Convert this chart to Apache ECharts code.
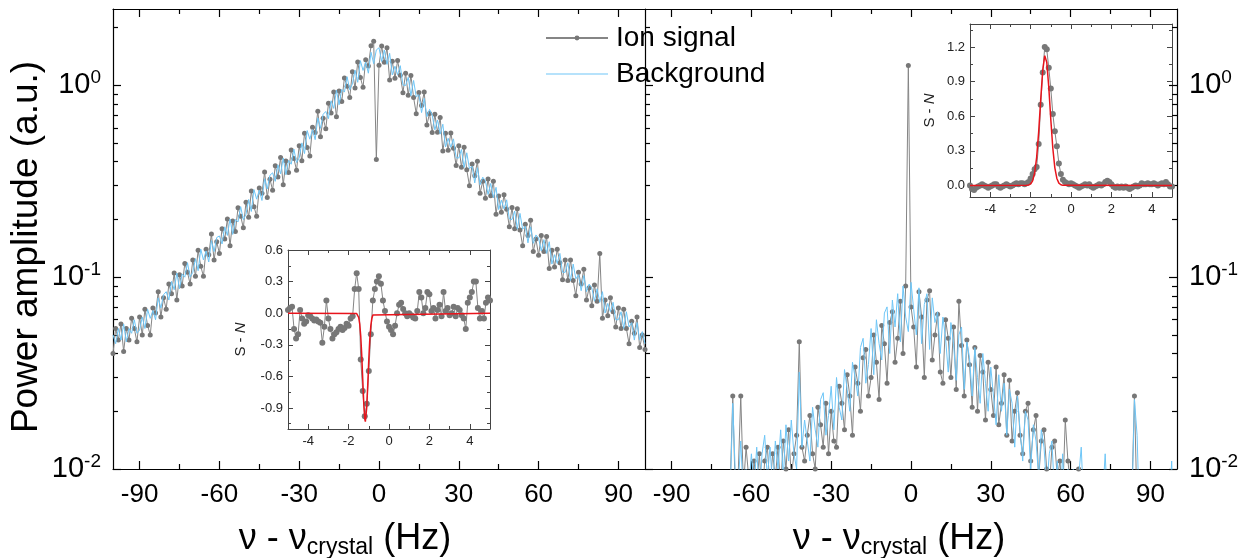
<!DOCTYPE html>
<html>
<head>
<meta charset="utf-8">
<script src="https://cdn.jsdelivr.net/npm/echarts@6/dist/echarts.min.js"></script>
<style>
    html, body { margin: 0; padding: 0; background: #fff; }
    #chart { width: 1243px; height: 558px; }
</style>
</head>
<body>
<div id="chart"></div>
<script>
// 频率网格 (Hz), 主图每 1 Hz 一个点, 插图每 0.1 Hz 一个点
var freqMain = Array.from({ length: 201 }, function (_, i) { return i - 100; });
var freqInset = Array.from({ length: 101 }, function (_, i) { return (i - 50) / 10; });

// 左图: 离子信号 / 背景
var ionLeft = [
    0.040, 0.054, 0.047, 0.057, 0.041, 0.054, 0.047, 0.061, 0.054, 0.046,
    0.062, 0.050, 0.068, 0.056, 0.050, 0.069, 0.065, 0.084, 0.062, 0.078,
    0.068, 0.092, 0.082, 0.105, 0.076, 0.103, 0.090, 0.118, 0.106, 0.092,
    0.123, 0.101, 0.138, 0.114, 0.101, 0.140, 0.131, 0.168, 0.123, 0.153,
    0.133, 0.179, 0.158, 0.201, 0.146, 0.196, 0.173, 0.230, 0.208, 0.181,
    0.246, 0.205, 0.281, 0.233, 0.208, 0.292, 0.274, 0.353, 0.260, 0.324,
    0.284, 0.381, 0.333, 0.421, 0.303, 0.403, 0.351, 0.460, 0.415, 0.361,
    0.484, 0.405, 0.563, 0.474, 0.428, 0.605, 0.567, 0.732, 0.540, 0.673,
    0.593, 0.806, 0.717, 0.924, 0.685, 0.933, 0.824, 1.093, 0.990, 0.865,
    1.177, 0.968, 1.322, 1.097, 0.976, 1.361, 1.261, 1.608, 1.700, 0.410,
    1.273, 1.602, 1.321, 1.568, 1.066, 1.336, 1.089, 1.346, 1.130, 0.916,
    1.155, 0.889, 1.125, 0.865, 0.712, 0.918, 0.786, 0.924, 0.621, 0.714,
    0.568, 0.706, 0.570, 0.679, 0.455, 0.562, 0.459, 0.564, 0.470, 0.382,
    0.484, 0.374, 0.476, 0.363, 0.300, 0.389, 0.338, 0.402, 0.274, 0.316,
    0.258, 0.325, 0.266, 0.316, 0.213, 0.265, 0.218, 0.269, 0.226, 0.183,
    0.231, 0.179, 0.227, 0.176, 0.146, 0.189, 0.165, 0.198, 0.136, 0.158,
    0.130, 0.165, 0.136, 0.163, 0.111, 0.138, 0.113, 0.140, 0.119, 0.097,
    0.123, 0.096, 0.123, 0.096, 0.080, 0.106, 0.092, 0.110, 0.076, 0.088,
    0.071, 0.091, 0.075, 0.133, 0.061, 0.076, 0.063, 0.078, 0.066, 0.055,
    0.069, 0.054, 0.068, 0.054, 0.045, 0.059, 0.051, 0.062, 0.043, 0.050, 0.042
];
var bgLeft = [
    0.050, 0.045, 0.054, 0.047, 0.057, 0.046, 0.054, 0.051, 0.060, 0.051,
    0.053, 0.062, 0.054, 0.068, 0.061, 0.067, 0.060, 0.078, 0.069, 0.081,
    0.084, 0.076, 0.095, 0.086, 0.105, 0.087, 0.104, 0.100, 0.119, 0.100,
    0.106, 0.125, 0.108, 0.140, 0.123, 0.137, 0.120, 0.155, 0.136, 0.161,
    0.164, 0.149, 0.183, 0.165, 0.201, 0.167, 0.200, 0.194, 0.233, 0.199,
    0.213, 0.254, 0.220, 0.286, 0.255, 0.284, 0.251, 0.326, 0.288, 0.340,
    0.350, 0.316, 0.385, 0.346, 0.418, 0.342, 0.406, 0.388, 0.465, 0.396,
    0.418, 0.501, 0.441, 0.581, 0.524, 0.588, 0.521, 0.677, 0.597, 0.706,
    0.731, 0.670, 0.831, 0.758, 0.944, 0.792, 0.952, 0.922, 1.109, 0.948,
    1.017, 1.199, 1.037, 1.345, 1.196, 1.323, 1.157, 1.487, 1.297, 1.530,
    1.569, 1.330, 1.529, 1.286, 1.469, 1.134, 1.258, 1.135, 1.266, 1.003,
    0.998, 1.101, 0.883, 1.060, 0.872, 0.893, 0.721, 0.855, 0.686, 0.749,
    0.700, 0.586, 0.660, 0.557, 0.627, 0.477, 0.530, 0.475, 0.526, 0.419,
    0.418, 0.463, 0.373, 0.445, 0.368, 0.378, 0.310, 0.372, 0.303, 0.332,
    0.318, 0.270, 0.308, 0.259, 0.294, 0.225, 0.252, 0.227, 0.253, 0.201,
    0.200, 0.221, 0.178, 0.215, 0.178, 0.184, 0.151, 0.183, 0.150, 0.166,
    0.160, 0.137, 0.157, 0.133, 0.153, 0.117, 0.131, 0.118, 0.133, 0.106,
    0.106, 0.119, 0.096, 0.117, 0.098, 0.103, 0.085, 0.102, 0.084, 0.092,
    0.088, 0.075, 0.087, 0.074, 0.084, 0.065, 0.073, 0.066, 0.074, 0.060,
    0.060, 0.066, 0.054, 0.066, 0.055, 0.058, 0.047, 0.058, 0.047, 0.052, 0.045
];

// 右图: 离子信号 / 背景
var ionRight = [
    0.004, 0.005, 0.003, 0.006, 0.004, 0.005, 0.003, 0.004, 0.006, 0.005,
    0.004, 0.006, 0.005, 0.003, 0.005, 0.004, 0.006, 0.005, 0.004, 0.006,
    0.005, 0.007, 0.004, 0.006, 0.005, 0.007, 0.006, 0.004, 0.007, 0.006,
    0.007, 0.006, 0.008, 0.024, 0.007, 0.009, 0.024, 0.008, 0.013, 0.009,
    0.007, 0.011, 0.008, 0.012, 0.007, 0.011, 0.013, 0.008, 0.012, 0.009,
    0.013, 0.008, 0.014, 0.010, 0.016, 0.009, 0.012, 0.015, 0.046, 0.013,
    0.011, 0.015, 0.019, 0.012, 0.010, 0.021, 0.017, 0.013, 0.022, 0.012,
    0.020, 0.014, 0.013, 0.027, 0.022, 0.016, 0.031, 0.024, 0.015, 0.034,
    0.028, 0.020, 0.038, 0.042, 0.024, 0.030, 0.050, 0.036, 0.023, 0.056,
    0.045, 0.028, 0.058, 0.066, 0.036, 0.048, 0.075, 0.040, 0.090, 1.270,
    0.070, 0.055, 0.034, 0.084, 0.062, 0.030, 0.076, 0.085, 0.037, 0.050,
    0.064, 0.032, 0.028, 0.060, 0.048, 0.030, 0.055, 0.026, 0.075, 0.044,
    0.024, 0.047, 0.035, 0.021, 0.043, 0.020, 0.039, 0.032, 0.018, 0.036,
    0.026, 0.019, 0.034, 0.017, 0.022, 0.031, 0.015, 0.029, 0.014, 0.020,
    0.025, 0.015, 0.012, 0.020, 0.022, 0.011, 0.016, 0.019, 0.009, 0.014,
    0.016, 0.010, 0.008, 0.013, 0.014, 0.009, 0.011, 0.007, 0.018, 0.011,
    0.008, 0.009, 0.007, 0.010, 0.006, 0.008, 0.007, 0.005, 0.006, 0.007,
    0.005, 0.006, 0.004, 0.007, 0.005, 0.006, 0.004, 0.005, 0.006, 0.005,
    0.004, 0.006, 0.005, 0.007, 0.024, 0.006, 0.005, 0.004, 0.006, 0.005,
    0.004, 0.006, 0.005, 0.004, 0.005, 0.006, 0.004, 0.005, 0.003, 0.004, 0.005
];
var bgRight = [
    0.003, 0.005, 0.004, 0.006, 0.003, 0.005, 0.004, 0.006, 0.005, 0.004,
    0.006, 0.004, 0.005, 0.007, 0.004, 0.006, 0.005, 0.004, 0.007, 0.005,
    0.006, 0.005, 0.007, 0.004, 0.008, 0.006, 0.005, 0.007, 0.006, 0.008,
    0.006, 0.008, 0.007, 0.022, 0.009, 0.008, 0.014, 0.007, 0.010, 0.008,
    0.012, 0.008, 0.013, 0.007, 0.012, 0.015, 0.009, 0.013, 0.008, 0.014,
    0.010, 0.016, 0.009, 0.017, 0.011, 0.018, 0.012, 0.010, 0.032, 0.013,
    0.018, 0.014, 0.011, 0.021, 0.016, 0.013, 0.023, 0.025, 0.015, 0.019,
    0.027, 0.016, 0.030, 0.021, 0.018, 0.033, 0.026, 0.020, 0.036, 0.030,
    0.024, 0.043, 0.048, 0.028, 0.035, 0.054, 0.031, 0.060, 0.045, 0.037,
    0.065, 0.070, 0.040, 0.076, 0.055, 0.082, 0.046, 0.090, 0.062, 0.052,
    0.094, 0.068, 0.050, 0.088, 0.045, 0.072, 0.082, 0.042, 0.078, 0.058,
    0.066, 0.040, 0.062, 0.048, 0.032, 0.058, 0.045, 0.029, 0.050, 0.055,
    0.026, 0.046, 0.038, 0.024, 0.043, 0.030, 0.022, 0.040, 0.028, 0.020,
    0.034, 0.024, 0.017, 0.031, 0.020, 0.028, 0.015, 0.026, 0.022, 0.013,
    0.024, 0.016, 0.011, 0.020, 0.018, 0.010, 0.017, 0.014, 0.009, 0.016,
    0.013, 0.008, 0.012, 0.014, 0.007, 0.011, 0.006, 0.012, 0.006, 0.010,
    0.007, 0.010, 0.006, 0.009, 0.013, 0.006, 0.008, 0.005, 0.007, 0.006,
    0.008, 0.005, 0.007, 0.012, 0.006, 0.005, 0.007, 0.004, 0.006, 0.005,
    0.005, 0.007, 0.004, 0.006, 0.023, 0.015, 0.005, 0.006, 0.004, 0.005,
    0.006, 0.004, 0.005, 0.003, 0.006, 0.005, 0.004, 0.006, 0.011, 0.004, 0.005
];

// 插图: S - N
var snLeft = [
    0.03, 0.05, 0.06, -0.15, -0.24, -0.20, 0.03, -0.05, -0.10, -0.08,
    -0.02, -0.03, -0.05, -0.07, -0.06, -0.08, -0.09, -0.28, -0.13, 0.12,
    -0.05, -0.15, -0.24, -0.20, -0.18, -0.15, -0.13, -0.16, -0.14, -0.10,
    -0.12, -0.05, -0.03, 0.23, 0.38, 0.23, -0.44, -0.74, -0.98, -0.86,
    -0.55, -0.20, 0.12, 0.23, 0.30, 0.35, 0.28, 0.12, 0.02, -0.08,
    -0.13, -0.16, -0.20, -0.12, 0.00, 0.08, 0.10, 0.04, 0.00, -0.03,
    0.00, -0.02, -0.04, -0.05, 0.02, 0.20, 0.15, 0.00, 0.05, 0.20,
    0.18, 0.02, 0.05, -0.05, 0.03, 0.08, -0.03, 0.20, 0.02, 0.05,
    -0.02, 0.00, 0.06, -0.03, 0.05, 0.03, -0.02, -0.05, -0.15, 0.10,
    0.15, 0.20, 0.30, 0.30, 0.05, -0.05, 0.02, -0.05, 0.10, 0.15,
    0.12
];
var snRight = [
    0.00, -0.03, -0.04, -0.02, -0.01, 0.00, 0.01, 0.00, -0.01, -0.02,
    -0.01, 0.00, 0.01, 0.01, -0.01, -0.02, -0.01, 0.00, 0.01, 0.00,
    -0.01, 0.00, 0.01, 0.02, 0.01, 0.02, 0.02, 0.01, 0.02, 0.03,
    0.06, 0.10, 0.14, 0.16, 0.36, 0.70, 0.98, 1.20, 1.18, 1.02,
    0.84, 0.62, 0.47, 0.34, 0.19, 0.10, 0.05, 0.03, 0.02, 0.01,
    0.02, 0.01, 0.00, -0.01, -0.02, -0.01, 0.00, 0.01, 0.00, 0.01,
    -0.01, -0.02, -0.01, 0.00, 0.01, 0.00, 0.01, 0.03, 0.04, 0.03,
    0.01, -0.01, -0.02, -0.01, -0.02, -0.01, -0.02, -0.01, -0.02, -0.03,
    -0.02, -0.01, 0.00, -0.01, 0.00, 0.02, 0.01, 0.01, 0.02, 0.01,
    0.01, 0.02, 0.01, 0.00, 0.01, 0.02, 0.01, 0.03, 0.01, -0.01,
    -0.01
];

// 高斯拟合
var fitLeftX = [-5, -1.6, -1.55, -1.5, -1.45, -1.4, -1.35, -1.3, -1.25, -1.2, -1.17, -1.15, -1.1, -1.05, -1.0, -0.95, -0.9, -0.85, -0.8, -0.75, 5];
var fitLeftY = [0, -0.004, -0.014, -0.041, -0.101, -0.215, -0.395, -0.625, -0.853, -1.003, -1.03, -1.018, -0.891, -0.673, -0.438, -0.246, -0.119, -0.05, -0.018, -0.005, 0];
var fitRightX = [-5, -2.2, -2.1, -2.0, -1.9, -1.8, -1.7, -1.6, -1.5, -1.4, -1.3, -1.28, -1.2, -1.1, -1.0, -0.9, -0.8, -0.7, -0.6, -0.5, -0.4, 5];
var fitRightY = [0, 0.001, 0.003, 0.013, 0.04, 0.108, 0.244, 0.465, 0.742, 0.997, 1.126, 1.13, 1.069, 0.853, 0.572, 0.323, 0.153, 0.061, 0.02, 0.006, 0.001, 0];

// 刻度
var mainXMajor = [-90, -60, -30, 0, 30, 60, 90];
var mainXMinor = [-75, -45, -15, 15, 45, 75];
var logMajor = [0.01, 0.1, 1];
var logMinor = [0.02, 0.03, 0.04, 0.05, 0.06, 0.07, 0.08, 0.09, 0.2, 0.3, 0.4, 0.5, 0.6, 0.7, 0.8, 0.9, 2];
var insetXMajor = [-4, -2, 0, 2, 4];
var insetXMinor = [-5, -3, -1, 1, 3, 5];
var leftInsetYMajor = [-0.9, -0.6, -0.3, 0, 0.3, 0.6];
var leftInsetYMinor = [-1.05, -0.75, -0.45, -0.15, 0.15, 0.45];
var rightInsetYMajor = [0, 0.3, 0.6, 0.9, 1.2];
var rightInsetYMinor = [0.15, 0.45, 0.75, 1.05, 1.35];

var FONT = "'Liberation Sans', Arial, Helvetica, sans-serif";
var GRAY = "#777777";
var BLUE = "#6ec6f7";
var RED = "#e8141c";

function zip(xs, ys) {
    return ys.map(function (y, i) { return [xs[i], y]; });
}

var xAxes = [];
var yAxes = [];

// 一个主刻度轴 (轴线+长刻度+标签) 加一个次刻度轴 (短刻度)
function addAxis(list, cfg) {
    var common = {
        gridIndex: cfg.grid,
        position: cfg.pos,
        type: cfg.type || "value",
        min: cfg.min,
        max: cfg.max,
        splitLine: { show: false },
        axisPointer: { show: false },
    };
    var major = Object.assign({}, common, {
        axisLine: { show: true, onZero: false, lineStyle: { color: cfg.color, width: cfg.width } },
        axisTick: {
            show: true, inside: true, length: cfg.len, customValues: cfg.major,
            lineStyle: { color: cfg.color, width: cfg.width },
        },
        axisLabel: cfg.label ? Object.assign({ customValues: cfg.major }, cfg.label) : { show: false },
    });
    if (cfg.name) {
        major.name = cfg.name;
        major.nameLocation = "middle";
        major.nameGap = cfg.nameGap;
        major.nameTextStyle = cfg.nameTextStyle;
    }
    list.push(major);
    var idx = list.length - 1;
    if (cfg.minor) {
        list.push(Object.assign({}, common, {
            axisLine: { show: false, onZero: false },
            axisTick: {
                show: true, inside: true, length: cfg.minorLen, customValues: cfg.minor,
                lineStyle: { color: cfg.color, width: cfg.width },
            },
            axisLabel: { show: false },
        }));
    }
    return idx;
}

var logLabel = {
    fontFamily: FONT,
    color: "#000",
    margin: 12,
    formatter: function (v) {
        var e = Math.round(Math.log(v) / Math.LN10);
        return "{b|10}{s|" + e + "}";
    },
    rich: {
        b: { fontSize: 29, fontFamily: FONT, color: "#000" },
        s: { fontSize: 19, fontFamily: FONT, color: "#000", padding: [0, 0, 15, 0] },
    },
};
var mainXLabel = { fontSize: 26, fontFamily: FONT, color: "#000", margin: 13 };
var xTitleStyle = {
    rich: {
        a: { fontSize: 36, fontFamily: FONT, color: "#000" },
        sub: { fontSize: 23, fontFamily: FONT, color: "#000", padding: [16, 0, 0, 0] },
    },
};
var xTitle = "{a|ν - ν}{sub|crystal}{a| (Hz)}";

// ---- 左主图 (grid 0)
var axL = addAxis(xAxes, {
    grid: 0, pos: "bottom", min: -100, max: 100, color: "#000", width: 1.2,
    len: 8, minorLen: 5, major: mainXMajor, minor: mainXMinor, label: mainXLabel,
    name: xTitle, nameGap: 51, nameTextStyle: Object.assign({ padding: [0, 68, 0, 0] }, xTitleStyle),
});
addAxis(xAxes, {
    grid: 0, pos: "top", min: -100, max: 100, color: "#000", width: 1.2,
    len: 8, minorLen: 5, major: mainXMajor, minor: mainXMinor,
});
var ayL = addAxis(yAxes, {
    grid: 0, pos: "left", type: "log", min: 0.01, max: 2.5, color: "#000", width: 1.2,
    len: 8, minorLen: 5, major: logMajor, minor: logMinor, label: logLabel,
    name: "Power amplitude (a.u.)", nameGap: 68,
    nameTextStyle: { fontSize: 37, fontFamily: FONT, color: "#000", padding: [0, 16, 0, 0] },
});

// ---- 右主图 (grid 1)
var axR = addAxis(xAxes, {
    grid: 1, pos: "bottom", min: -100, max: 100, color: "#000", width: 1.2,
    len: 8, minorLen: 5, major: mainXMajor, minor: mainXMinor, label: mainXLabel,
    name: xTitle, nameGap: 51, nameTextStyle: Object.assign({ padding: [0, 24, 0, 0] }, xTitleStyle),
});
addAxis(xAxes, {
    grid: 1, pos: "top", min: -100, max: 100, color: "#000", width: 1.2,
    len: 8, minorLen: 5, major: mainXMajor, minor: mainXMinor,
});
var ayR = addAxis(yAxes, {
    grid: 1, pos: "right", type: "log", min: 0.01, max: 2.5, color: "#000", width: 1.2,
    len: 8, minorLen: 5, major: logMajor, minor: logMinor, label: logLabel,
});
addAxis(yAxes, {
    grid: 1, pos: "left", type: "log", min: 0.01, max: 2.5, color: "#000", width: 1.2,
    len: 8, minorLen: 5, major: logMajor, minor: logMinor,
});

// ---- 插图
var insetXLabel = { fontSize: 13, fontFamily: FONT, color: "#222", margin: 6 };
var insetYLabel = {
    fontSize: 13, fontFamily: FONT, color: "#222", margin: 5,
    formatter: function (v) { return v.toFixed(1); },
};
var insetName = {
    fontSize: 15, fontFamily: FONT, color: "#222",
    rich: { i: { fontSize: 15, fontFamily: FONT, fontStyle: "italic", color: "#222" } },
};

var axIL = addAxis(xAxes, {
    grid: 2, pos: "bottom", min: -5, max: 5, color: "#444", width: 1,
    len: 5, minorLen: 3, major: insetXMajor, minor: insetXMinor, label: insetXLabel,
});
addAxis(xAxes, {
    grid: 2, pos: "top", min: -5, max: 5, color: "#444", width: 1,
    len: 5, minorLen: 3, major: insetXMajor, minor: insetXMinor,
});
var ayIL = addAxis(yAxes, {
    grid: 2, pos: "left", min: -1.1, max: 0.6, color: "#444", width: 1,
    len: 5, minorLen: 3, major: leftInsetYMajor, minor: leftInsetYMinor, label: insetYLabel,
    name: "S - {i|N}", nameGap: 40, nameTextStyle: insetName,
});
addAxis(yAxes, {
    grid: 2, pos: "right", min: -1.1, max: 0.6, color: "#444", width: 1,
    len: 5, minorLen: 3, major: leftInsetYMajor, minor: leftInsetYMinor,
});

var axIR = addAxis(xAxes, {
    grid: 3, pos: "bottom", min: -5, max: 5, color: "#444", width: 1,
    len: 5, minorLen: 3, major: insetXMajor, minor: insetXMinor, label: insetXLabel,
});
addAxis(xAxes, {
    grid: 3, pos: "top", min: -5, max: 5, color: "#444", width: 1,
    len: 5, minorLen: 3, major: insetXMajor, minor: insetXMinor,
});
var ayIR = addAxis(yAxes, {
    grid: 3, pos: "left", min: -0.1, max: 1.4, color: "#444", width: 1,
    len: 5, minorLen: 3, major: rightInsetYMajor, minor: rightInsetYMinor, label: insetYLabel,
    name: "S - {i|N}", nameGap: 33, nameTextStyle: insetName,
});
addAxis(yAxes, {
    grid: 3, pos: "right", min: -0.1, max: 1.4, color: "#444", width: 1,
    len: 5, minorLen: 3, major: rightInsetYMajor, minor: rightInsetYMinor,
});

function ionSeries(name, xi, yi, data, size) {
    return {
        name: name, type: "line", xAxisIndex: xi, yAxisIndex: yi, data: data,
        symbol: "circle", symbolSize: size, showSymbol: true, clip: true,
        lineStyle: { color: "#858585", width: 1 },
        itemStyle: { color: GRAY },
        emphasis: { disabled: true }, z: 2,
    };
}
function plainLine(name, xi, yi, data, color, width, z) {
    return {
        name: name, type: "line", xAxisIndex: xi, yAxisIndex: yi, data: data,
        showSymbol: false, symbol: "none", clip: true,
        lineStyle: { color: color, width: width },
        itemStyle: { color: color },
        emphasis: { disabled: true }, z: z,
    };
}

var myChart = echarts.init(document.getElementById("chart"), null, { renderer: "canvas" });
var option = {
    animation: false,
    backgroundColor: "#fff",
    grid: [
        { left: 113, top: 9, width: 532, height: 460, outerBoundsMode: "none" },
        { left: 645, top: 9, width: 532, height: 460, outerBoundsMode: "none" },
        { left: 288, top: 250, width: 202, height: 179, show: true, backgroundColor: "#fff", borderWidth: 0, outerBoundsMode: "none" },
        { left: 970, top: 24, width: 202, height: 173, show: true, backgroundColor: "#fff", borderWidth: 0, outerBoundsMode: "none" },
    ],
    legend: {
        data: [
            { name: "Ion signal" },
            { name: "Background", icon: "path://M0,0 L62,0 L62,1 L0,1 Z", itemStyle: { color: BLUE } },
        ],
        orient: "vertical",
        left: 545,
        top: 23,
        padding: 0,
        itemWidth: 62,
        itemHeight: 6,
        itemGap: 6,
        textStyle: { fontSize: 28, fontFamily: FONT, color: "#000", lineHeight: 30, padding: [0, 0, 0, 3] },
    },
    xAxis: xAxes,
    yAxis: yAxes,
    series: [
        ionSeries("Ion signal", axL, ayL, zip(freqMain, ionLeft), 5),
        plainLine("Background", axL, ayL, zip(freqMain, bgLeft), BLUE, 1, 3),
        ionSeries("Ion signal", axR, ayR, zip(freqMain, ionRight), 5),
        plainLine("Background", axR, ayR, zip(freqMain, bgRight), BLUE, 1, 3),
        ionSeries("S-N left", axIL, ayIL, zip(freqInset, snLeft), 6),
        plainLine("fit left", axIL, ayIL, zip(fitLeftX, fitLeftY), RED, 1.5, 4),
        ionSeries("S-N right", axIR, ayIR, zip(freqInset, snRight), 6),
        plainLine("fit right", axIR, ayIR, zip(fitRightX, fitRightY), RED, 1.5, 4),
    ],
};
myChart.setOption(option);
</script>
</body>
</html>
